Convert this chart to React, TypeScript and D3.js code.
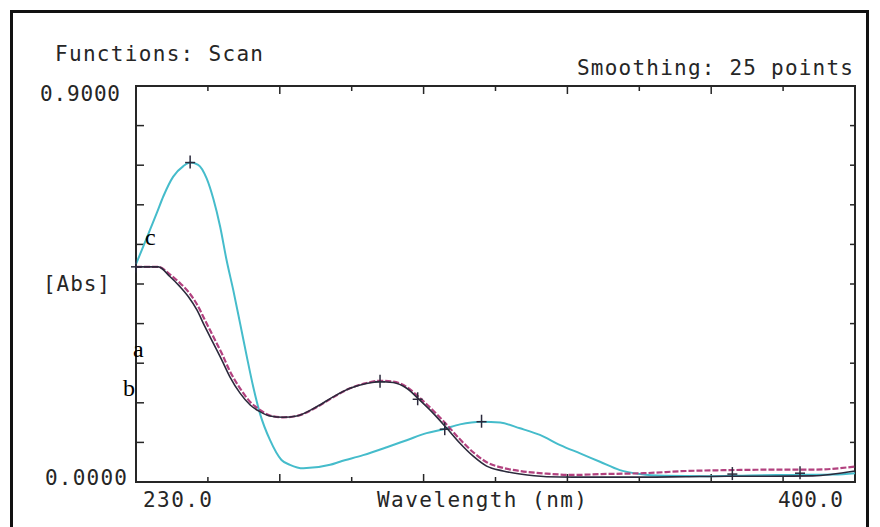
import React from "react";
import * as d3 from "d3";

// Wavelength (nm) / absorbance samples
const wlC = [230, 231.7, 233.3, 234.9, 236.5, 238.8, 241.2, 242.8, 244.7, 246.7, 248.3, 249.9, 251.4, 253.0, 254.6, 256.2, 257.7, 259.3, 261.7, 264.4, 266.4, 269.6, 275.9, 278.2, 283.7, 289.3, 294.0, 298.7, 302.7, 306.6, 311.7, 316.1, 320.8, 325.5, 330.3, 335.0, 339.7, 344.4, 349.2, 355, 365, 375, 385, 395, 400];
const absC = [0.495, 0.535, 0.573, 0.611, 0.65, 0.694, 0.718, 0.726, 0.721, 0.69, 0.643, 0.58, 0.505, 0.436, 0.361, 0.285, 0.217, 0.156, 0.095, 0.05, 0.039, 0.031, 0.039, 0.046, 0.061, 0.079, 0.095, 0.111, 0.12, 0.131, 0.137, 0.135, 0.122, 0.107, 0.084, 0.065, 0.046, 0.027, 0.018, 0.014, 0.013, 0.015, 0.016, 0.017, 0.02];

const wlAB = [230, 235.3, 238.0, 240.4, 242.4, 244.4, 246.3, 248.3, 250.3, 252.2, 254.6, 257.0, 259.3, 261.7, 264.8, 268.0, 272.7, 276.7, 280.6, 284.5, 287.7, 290.8, 294.0, 297.1, 300.3, 303.5, 306.6, 309.8, 312.9, 316.8, 320.8, 327.1, 333.4, 340, 350, 360, 370, 380, 390, 400];
const absB = [0.489, 0.489, 0.467, 0.444, 0.421, 0.391, 0.353, 0.315, 0.277, 0.239, 0.202, 0.175, 0.16, 0.15, 0.147, 0.15, 0.171, 0.194, 0.213, 0.224, 0.228, 0.226, 0.213, 0.186, 0.156, 0.122, 0.088, 0.058, 0.036, 0.025, 0.018, 0.012, 0.011, 0.011, 0.011, 0.012, 0.013, 0.013, 0.014, 0.025];
const absA = [0.489, 0.489, 0.472, 0.452, 0.432, 0.404, 0.368, 0.33, 0.292, 0.252, 0.213, 0.182, 0.164, 0.151, 0.147, 0.15, 0.17, 0.193, 0.213, 0.225, 0.23, 0.228, 0.216, 0.191, 0.162, 0.13, 0.097, 0.067, 0.045, 0.032, 0.025, 0.019, 0.016, 0.018, 0.02, 0.025, 0.027, 0.028, 0.028, 0.035];

const markersC: [number, number][] = [[242.8, 0.726], [311.7, 0.137], [303.0, 0.12]];
const markersB: [number, number][] = [[230, 0.489], [287.7, 0.228], [296.6, 0.188], [371, 0.018], [387, 0.02]];

const xTicks = d3.range(0, 11).map((i) => 230 + i * 17);
const yTicks = d3.range(0, 11).map((i) => i * 0.09);

const labels = {
  title: "Functions: Scan",
  smoothing: "Smoothing: 25 points",
  yTop: "0.9000",
  yBottom: "0.0000",
  yName: "[Abs]",
  xLeft: "230.0",
  xName: "Wavelength (nm)",
  xRight: "400.0",
};

const L = 136, R = 855, T = 86, B = 482;
const mono = "'DejaVu Sans Mono', monospace";
const ink = "#262626";

export default function App() {
  const x = d3.scaleLinear().domain([230, 400]).range([L, R]);
  const y = d3.scaleLinear().domain([0, 0.9]).range([B, T]);
  const line = (wl: number[], ab: number[]) =>
    d3.line<number>().x((_, i) => x(wl[i])).y((d) => y(d)).curve(d3.curveMonotoneX)(ab) || "";

  const cross = (p: [number, number], k: string, col: string) => (
    <g key={k} stroke={col} strokeWidth={1.5}>
      <line x1={x(p[0]) - 5} x2={x(p[0]) + 5} y1={y(p[1])} y2={y(p[1])} />
      <line x1={x(p[0])} x2={x(p[0])} y1={y(p[1]) - 7} y2={y(p[1]) + 6} />
    </g>
  );

  const txt = (s: string, x0: number, x1: number, base: number, size = 21) => (
    <text x={x0} y={base} fontFamily={mono} fontSize={size} fill={ink}
      textLength={x1 - x0} lengthAdjust="spacing">{s}</text>
  );

  return (
    <svg width={880} height={527} style={{ position: "absolute", left: 0, top: 0, background: "#fff" }}>
      <rect x={11.5} y={11.5} width={856} height={560} fill="none" stroke="#111" strokeWidth={3} />

      {txt(labels.title, 55, 263, 61)}
      {txt(labels.smoothing, 577, 853, 75)}
      {txt(labels.yTop, 40, 120, 101)}
      {txt(labels.yName, 43, 110, 291)}
      {txt(labels.yBottom, 45, 127, 485)}
      {txt(labels.xLeft, 143, 212, 507)}
      {txt(labels.xName, 377, 587, 507)}
      {txt(labels.xRight, 778, 843, 507)}

      {/* plot box */}
      <rect x={L} y={T} width={R - L} height={B - T} fill="none" stroke={ink} strokeWidth={2} />
      {yTicks.slice(1, -1).map((t, i) => (
        <g key={"yt" + i} stroke={ink} strokeWidth={1.5}>
          <line x1={L} x2={L + 8} y1={y(t)} y2={y(t)} />
          <line x1={R} x2={R - 5} y1={y(t)} y2={y(t)} />
        </g>
      ))}
      {xTicks.slice(1, -1).map((t, i) => (
        <g key={"xt" + i} stroke={ink} strokeWidth={1.5}>
          <line x1={x(t)} x2={x(t)} y1={B} y2={B - (i % 2 === 1 ? 8 : 5)} />
          <line x1={x(t)} x2={x(t)} y1={T} y2={T + (i % 2 === 1 ? 8 : 5)} />
        </g>
      ))}

      {/* curves */}
      <path d={line(wlC, absC)} fill="none" stroke="#45bccb" strokeWidth={2} />
      <path d={line(wlAB, absA)} fill="none" stroke="#b2417f" strokeWidth={2.2} strokeDasharray="6 2" />
      <path d={line(wlAB, absB)} fill="none" stroke="#2b2a3c" strokeWidth={1.6} />

      {markersC.map((p, i) => cross(p, "mc" + i, "#2b2a3c"))}
      {markersB.map((p, i) => cross(p, "mb" + i, "#2b2a3c"))}

      <g fontFamily="'Liberation Serif', 'Times New Roman', serif" fontSize={24} fill="#000">
        <text x={145} y={245}>c</text>
        <text x={133} y={357}>a</text>
        <text x={123} y={396}>b</text>
      </g>
    </svg>
  );
}
